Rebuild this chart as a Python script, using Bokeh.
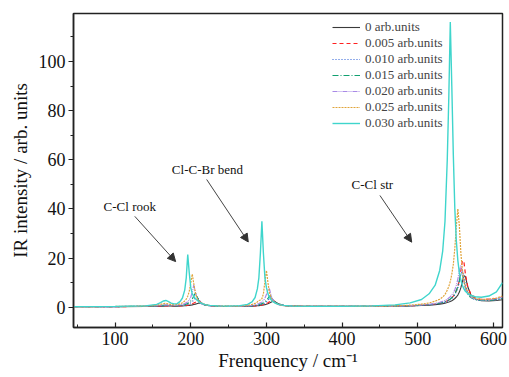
from bokeh.plotting import figure
from bokeh.models import (SingleIntervalTicker, Range1d, Arrow, NormalHead, Label,
                          Legend, LegendItem)
from bokeh.embed import file_html
from bokeh.resources import INLINE

# ---------------- data ----------------
freq = [45, 100, 140, 155, 160, 164, 167, 170, 174, 178, 182, 186, 189, 192, 194,
        196, 198, 200, 202, 204, 206, 208, 210, 212, 215, 219, 225, 235, 250, 265,
        275, 281, 285, 288, 290, 292, 294, 296, 298, 300, 302, 304, 306, 308, 310,
        313, 317, 323, 335, 360, 400, 440, 470, 490, 505, 515, 523, 529, 533, 536,
        539, 541, 543, 545, 547, 549, 551, 553, 555, 557, 559, 561, 563, 566, 570,
        576, 584, 594, 604, 612]

ir_000 = [0.3, 0.3, 0.36, 0.44, 0.47, 0.5, 0.53, 0.56, 0.55, 0.5, 0.5, 0.53, 0.57, 0.62, 0.67,
          0.73, 0.8, 0.9, 1.0, 1.15, 1.3, 1.5, 1.7, 1.8, 1.45, 0.95, 0.62, 0.44, 0.36, 0.36,
          0.42, 0.48, 0.55, 0.62, 0.68, 0.75, 0.84, 0.95, 1.1, 1.28, 1.5, 1.75, 2.05, 2.35, 2.5,
          2.0, 1.3, 0.8, 0.5, 0.4, 0.4, 0.42, 0.48, 0.6, 0.75, 0.9, 1.1, 1.3, 1.5, 1.7,
          1.95, 2.15, 2.4, 2.7, 3.1, 3.6, 4.2, 5.0, 6.2, 8.0, 10.5, 12.8, 12.5, 8.5, 5.2,
          3.4, 2.7, 2.6, 2.8, 3.1]
ir_005 = [0.3, 0.3, 0.38, 0.48, 0.52, 0.56, 0.6, 0.62, 0.58, 0.54, 0.55, 0.6, 0.66, 0.74, 0.82,
          0.92, 1.05, 1.2, 1.45, 1.75, 2.1, 2.5, 2.8, 2.4, 1.6, 1.0, 0.66, 0.46, 0.38, 0.38,
          0.44, 0.52, 0.6, 0.68, 0.75, 0.84, 0.95, 1.1, 1.3, 1.55, 1.85, 2.25, 2.7, 3.0, 2.6,
          1.8, 1.15, 0.75, 0.5, 0.4, 0.4, 0.42, 0.5, 0.65, 0.85, 1.05, 1.3, 1.6, 1.95, 2.25,
          2.65, 3.0, 3.4, 3.9, 4.6, 5.5, 6.8, 8.5, 11, 15, 19, 18.5, 13.5, 8.5, 5.5,
          3.8, 3.2, 3.3, 3.6, 4.2]
ir_010 = [0.3, 0.31, 0.4, 0.52, 0.6, 0.65, 0.7, 0.72, 0.65, 0.6, 0.62, 0.7, 0.8, 0.92, 1.05,
          1.25, 1.5, 1.85, 2.3, 3.0, 3.9, 4.5, 3.6, 2.5, 1.6, 1.0, 0.68, 0.48, 0.4, 0.4,
          0.48, 0.58, 0.7, 0.82, 0.92, 1.05, 1.2, 1.45, 1.75, 2.2, 2.8, 3.5, 4.0, 3.4, 2.5,
          1.7, 1.1, 0.75, 0.5, 0.4, 0.4, 0.42, 0.48, 0.62, 0.8, 1.0, 1.25, 1.55, 1.85, 2.1,
          2.5, 2.8, 3.2, 3.7, 4.3, 5.2, 6.4, 8.0, 10.5, 13.5, 15, 12.5, 9.2, 6.2, 4.3,
          3.2, 2.8, 2.8, 3.1, 3.6]
ir_015 = [0.3, 0.32, 0.42, 0.6, 0.7, 0.8, 0.85, 0.85, 0.75, 0.7, 0.72, 0.82, 0.95, 1.1, 1.3,
          1.6, 2.0, 2.6, 3.4, 4.6, 6.0, 4.5, 3.0, 2.1, 1.4, 0.95, 0.65, 0.48, 0.4, 0.42,
          0.52, 0.65, 0.8, 0.95, 1.1, 1.3, 1.5, 1.8, 2.2, 2.8, 3.6, 4.6, 4.6, 3.4, 2.5,
          1.7, 1.1, 0.75, 0.5, 0.4, 0.4, 0.42, 0.5, 0.65, 0.85, 1.05, 1.35, 1.7, 2.0, 2.3,
          2.7, 3.0, 3.4, 3.9, 4.6, 5.5, 6.8, 8.5, 11, 13.5, 13.5, 10.5, 7.8, 5.5, 4.0,
          3.1, 2.8, 2.9, 3.2, 3.8]
ir_020 = [0.3, 0.33, 0.45, 0.7, 0.85, 1.0, 1.05, 1.0, 0.85, 0.8, 0.85, 1.0, 1.2, 1.5, 1.8,
          2.3, 3.0, 4.2, 6.2, 9.0, 6.3, 3.9, 2.6, 1.9, 1.3, 0.9, 0.65, 0.5, 0.4, 0.45,
          0.6, 0.8, 1.0, 1.3, 1.5, 1.8, 2.2, 2.8, 3.7, 5.2, 7.3, 7.5, 5.0, 3.3, 2.3,
          1.6, 1.0, 0.7, 0.5, 0.4, 0.4, 0.42, 0.5, 0.7, 0.95, 1.2, 1.6, 2.0, 2.4, 2.8,
          3.3, 3.8, 4.3, 5.0, 5.9, 7.2, 9.0, 11.5, 15, 17, 14.5, 10.5, 7.8, 5.6, 4.2,
          3.3, 3.0, 3.1, 3.5, 4.2]
ir_025 = [0.3, 0.35, 0.5, 0.9, 1.2, 1.5, 1.6, 1.4, 1.1, 1.0, 1.1, 1.4, 1.9, 2.6, 3.3,
          4.5, 6.5, 10, 13.5, 9.5, 6.0, 4.0, 3.0, 2.2, 1.6, 1.1, 0.8, 0.55, 0.45, 0.55,
          0.8, 1.2, 1.6, 2.2, 2.8, 3.0, 3.5, 5.5, 10.5, 15, 10, 6.0, 4.0, 2.8, 2.1,
          1.5, 1.0, 0.7, 0.5, 0.4, 0.4, 0.45, 0.6, 0.9, 1.3, 1.8, 2.5, 3.3, 4.2, 5.2,
          7.0, 8.5, 10.5, 13.5, 17.5, 24, 33, 40, 33, 22, 15, 11, 8.5, 6.3, 4.6,
          3.6, 3.2, 3.3, 3.8, 4.6]
ir_030 = [0.3, 0.4, 0.6, 1.2, 1.9, 2.6, 2.8, 2.4, 1.7, 1.4, 1.5, 2.4, 3.8, 7, 12,
          21.5, 14, 8, 5.5, 4.5, 3.5, 3.0, 2.5, 2.0, 1.5, 1.1, 0.8, 0.6, 0.5, 0.7,
          1.2, 2.2, 4, 7.5, 12, 22, 35, 22, 12, 8, 5.5, 4.0, 3.2, 2.5, 2.0,
          1.5, 1.1, 0.8, 0.5, 0.4, 0.4, 0.6, 1.0, 1.8, 3.2, 5.5, 9, 15, 23, 35,
          60, 85, 116, 90, 62, 40, 27, 19, 14, 11, 9, 7.5, 6.5, 5.6, 4.8,
          4.3, 4.1, 4.6, 6.3, 10]

series_labels = ["0 arb.units", "0.005 arb.units", "0.010 arb.units", "0.015 arb.units",
                 "0.020 arb.units", "0.025 arb.units", "0.030 arb.units"]
series_values = [ir_000, ir_005, ir_010, ir_015, ir_020, ir_025, ir_030]

ann_texts = ["C-Cl rook", "Cl-C-Br bend", "C-Cl str"]
ann_text_x = [154, 222, 440]
ann_text_y = [41, 56, 50]
arrow_x0 = [126, 221, 450]
arrow_y0 = [37, 52, 45.5]
arrow_x1 = [180, 276, 492]
arrow_y1 = [18.6, 26.6, 26.5]

# ---------------- styles ----------------
colors = ["#3a3a3a", "#ff2020", "#2a5fd8", "#10a070", "#a98ae6", "#e0a43a", "#3fd5cc"]
dashes = ["solid", "4 3", "1 2", "6 2 1 2", "5 1 1 1 1 1", "2 1", "solid"]
widths = [1.1, 1.2, 1.2, 1.2, 1.2, 1.2, 1.4]

FONT = "Liberation Serif"

p = figure(width=509, height=377, output_backend="svg", toolbar_location=None,
           x_range=Range1d(45, 612), y_range=Range1d(-8.2, 119.5),
           min_border_left=73, min_border_right=7, min_border_top=13, min_border_bottom=50)

renderers = []
for yv, c, d, w in zip(series_values, colors, dashes, widths):
    r = p.line(freq, yv, line_color=c, line_dash=d, line_width=w)
    renderers.append(r)

legend = Legend(items=[LegendItem(label=l, renderers=[r]) for l, r in zip(series_labels, renderers)],
                location=(257, 194))
legend.background_fill_alpha = 0
legend.border_line_alpha = 0
legend.label_text_font = FONT
legend.label_text_font_size = "13px"
legend.glyph_width = 28
legend.glyph_height = 16
legend.label_height = 16
legend.label_standoff = 5
legend.spacing = 0
legend.padding = 2
legend.margin = 0
p.add_layout(legend, "center")

for t, tx, ty in zip(ann_texts, ann_text_x, ann_text_y):
    align = "right" if t == "C-Cl rook" else "center"
    p.add_layout(Label(x=tx, y=ty, text=t, text_font=FONT, text_font_size="13px",
                       text_align=align, text_baseline="middle", text_color="#111111"))
for xa, ya, xb, yb in zip(arrow_x0, arrow_y0, arrow_x1, arrow_y1):
    p.add_layout(Arrow(end=NormalHead(size=8, fill_color="#333333", line_color="#333333"),
                       x_start=xa, y_start=ya, x_end=xb, y_end=yb,
                       line_color="#444444", line_width=1))

p.xaxis.ticker = SingleIntervalTicker(interval=100, num_minor_ticks=2)
p.yaxis.ticker = SingleIntervalTicker(interval=20, num_minor_ticks=2)
p.xgrid.visible = False
p.ygrid.visible = False

p.xaxis.axis_label = "Frenquency / cm\u207b\u00b9"
p.yaxis.axis_label = "IR intensity / arb. units"
for ax in (p.xaxis, p.yaxis):
    ax.axis_label_text_font = FONT
    ax.axis_label_text_font_size = "19px"
    ax.axis_label_text_font_style = "normal"
    ax.axis_label_text_color = "#111111"
    ax.major_label_text_font = FONT
    ax.major_label_text_font_size = "18px"
    ax.major_label_text_color = "#111111"
    ax.axis_line_color = "#222222"
    ax.axis_line_width = 1.5
    ax.major_tick_line_color = "#222222"
    ax.minor_tick_line_color = "#222222"
    ax.major_tick_line_width = 1.2
    ax.minor_tick_line_width = 1.0

p.xaxis.major_tick_in = 5
p.xaxis.major_tick_out = 0
p.xaxis.minor_tick_in = 3
p.xaxis.minor_tick_out = 0
p.xaxis.major_label_standoff = 4
p.xaxis.axis_label_standoff = 2

p.yaxis.major_tick_in = 0
p.yaxis.major_tick_out = 5
p.yaxis.minor_tick_in = 0
p.yaxis.minor_tick_out = 3
p.yaxis.major_label_standoff = 3
p.yaxis.axis_label_standoff = 5

p.outline_line_color = "#222222"
p.outline_line_width = 1.5
p.outline_line_alpha = 1
p.background_fill_color = "white"
p.border_fill_color = "white"

open("out.html", "w").write(file_html(p, INLINE))
